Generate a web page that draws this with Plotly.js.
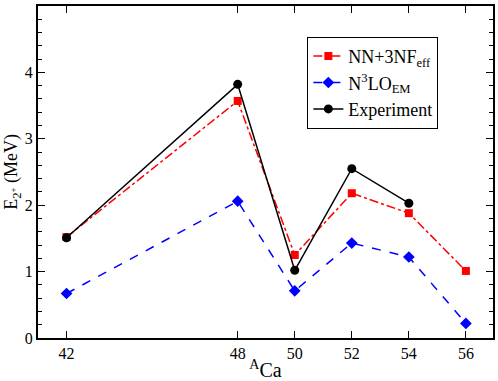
<!DOCTYPE html>
<html>
<head>
<meta charset="utf-8">
<script src="https://cdn.plot.ly/plotly-3.0.1.min.js"></script>
<style>
html,body{margin:0;padding:0;background:#fff;}
#chart{width:498px;height:381px;}
</style>
</head>
<body>
<div id="chart"></div>
<script>
const massNumbers = [42, 48, 50, 52, 54, 56];
const nn3nf = [1.52, 3.57, 1.25, 2.18, 1.88, 1.01];
const n3lo = [0.67, 2.06, 0.71, 1.43, 1.22, 0.22];
const expMass = [42, 48, 50, 52, 54];
const experiment = [1.51, 3.82, 1.02, 2.55, 2.03];
const xTicks = [42, 48, 50, 52, 54, 56];
const xTickText = ['42', '48', '50', '52', '54', '56'];
const yTicks = [0, 1, 2, 3, 4, 5];
const yTickText = ['0', '1', '2', '3', '4', '5'];

const font = 'Liberation Serif';

const traces = [
  {x: massNumbers, y: nn3nf, name: 'NN+3NF<sub>eff</sub>', mode: 'lines+markers',
   line: {color: '#ff0000', width: 1.5, dash: 'dashdot'},
   marker: {symbol: 'square', size: 8, color: '#ff0000'}},
  {x: massNumbers, y: n3lo, name: 'N<sup>3</sup>LO<sub>EM</sub>', mode: 'lines+markers',
   line: {color: '#0000ff', width: 1.5, dash: 'dash'},
   marker: {symbol: 'diamond', size: 9, color: '#0000ff'}},
  {x: expMass, y: experiment, name: 'Experiment', mode: 'lines+markers',
   line: {color: '#000000', width: 1.5},
   marker: {symbol: 'circle', size: 9, color: '#000000'}}
];

const layout = {
  width: 498, height: 381,
  margin: {l: 37.5, r: 5, t: 6, b: 43},
  paper_bgcolor: '#fff', plot_bgcolor: '#fff',
  font: {family: font, size: 16, color: '#000'},
  showlegend: true,
  legend: {x: 0.592, y: 0.907, xanchor: 'left', yanchor: 'top',
    bordercolor: '#000', borderwidth: 1, bgcolor: '#fff',
    font: {family: font, size: 18, color: '#000'}, tracegroupgap: 0},
  xaxis: {range: [41, 56.95], tickmode: 'array', tickvals: xTicks, ticktext: xTickText,
    ticks: 'inside', ticklen: 7, tickwidth: 1,
    tickcolor: '#000', showline: true, linecolor: '#000', linewidth: 2, mirror: 'ticks',
    showgrid: false, zeroline: false, tickfont: {family: font, size: 16, color: '#000'},
    title: {text: '<sup>A</sup>Ca', font: {family: font, size: 20}, standoff: 2}},
  yaxis: {range: [0, 5], tickmode: 'array', tickvals: yTicks, ticktext: yTickText,
    ticks: 'inside', ticklen: 7, tickwidth: 1,
    tickcolor: '#000', showline: true, linecolor: '#000', linewidth: 2, mirror: 'ticks',
    showgrid: false, zeroline: false, tickfont: {family: font, size: 16, color: '#000'},
    minor: {dtick: 0.2, ticks: 'inside', ticklen: 4, tickcolor: '#000', showgrid: false},
    title: {text: 'E<sub>2<sup>+</sup></sub> (MeV)', font: {family: font, size: 18}, standoff: 2}}
};

Plotly.newPlot('chart', traces, layout, {displayModeBar: false, staticPlot: true});
</script>
</body>
</html>
